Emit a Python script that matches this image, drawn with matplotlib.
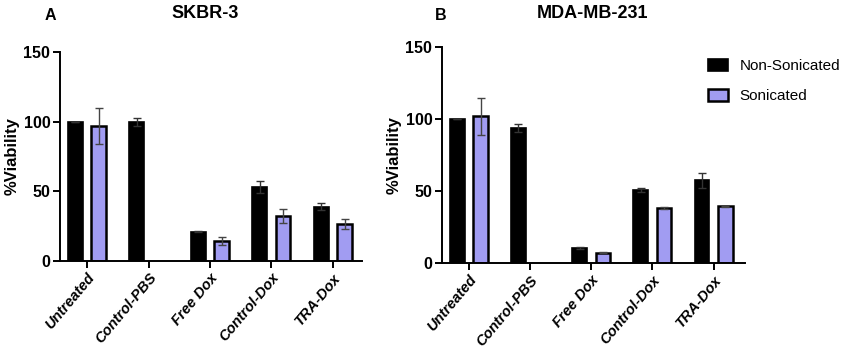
import matplotlib
matplotlib.use("Agg")
import matplotlib.pyplot as plt
import numpy as np

plt.rcParams['font.family'] = ['Liberation Sans', 'DejaVu Sans']

categories = ['Untreated', 'Control-PBS', 'Free Dox', 'Control-Dox', 'TRA-Dox']

# SKBR-3
skbr_non = [100, 100, 21, 53, 39]
skbr_non_err = [0, 3, 0.5, 4.3, 2.6]
skbr_son = [97, np.nan, 14.6, 32, 26.5]
skbr_son_err = [12.7, np.nan, 2.9, 5, 3.8]

# MDA-MB-231
mda_non = [100, 93.6, 10.4, 50.7, 57.6]
mda_non_err = [0, 2.8, 0.6, 1.3, 5.1]
mda_son = [102, np.nan, 7.2, 38.4, 39.6]
mda_son_err = [13, np.nan, 0.5, 0.7, 0.4]

black = '#000000'
purple = '#a19cf2'

fig = plt.figure(figsize=(8.5, 3.57), dpi=100)
ax_a = fig.add_axes([0.0706, 0.269, 0.355, 0.585])
ax_b = fig.add_axes([0.520, 0.263, 0.357, 0.605])


def draw_panel(ax, non, non_err, son, son_err, xmax):
    x = np.arange(len(categories))
    w = 0.24
    ax.bar(x - 0.19, non, w, color=black, edgecolor=black, linewidth=1.2,
           label='Non-Sonicated', zorder=2)
    ax.bar(x + 0.19, son, w, color=purple, edgecolor=black, linewidth=1.8,
           label='Sonicated', zorder=2)
    ax.errorbar(x - 0.19, non, yerr=non_err, fmt='none', ecolor='#333333',
                elinewidth=1.0, capsize=3, capthick=1.0, zorder=3)
    ax.errorbar(x + 0.19, son, yerr=son_err, fmt='none', ecolor='#444444',
                elinewidth=1.0, capsize=3, capthick=1.0, zorder=3)
    ax.set_xlim(-0.44, xmax)
    ax.set_ylim(0, 150)
    ax.set_yticks([0, 50, 100, 150])
    ax.set_xticks(x)
    ax.set_xticklabels(categories, rotation=50, ha='right', rotation_mode='anchor',
                       fontstyle='italic', fontweight='bold', fontsize=10.5)
    for lab in ax.get_yticklabels():
        lab.set_fontweight('bold')
        lab.set_fontsize(11.5)
    ax.spines['top'].set_visible(False)
    ax.spines['right'].set_visible(False)
    ax.spines['left'].set_linewidth(1.4)
    ax.spines['bottom'].set_linewidth(1.4)
    ax.tick_params(axis='both', width=1.4, length=5, pad=2)
    ax.set_ylabel('%Viability', fontweight='bold', fontsize=12, labelpad=3)


draw_panel(ax_a, skbr_non, skbr_non_err, skbr_son, skbr_son_err, 4.47)
draw_panel(ax_b, mda_non, mda_non_err, mda_son, mda_son_err, 4.52)

fig.text(205 / 850, 1 - 14 / 357, 'SKBR-3', ha='center', va='center',
         fontweight='bold', fontsize=13)
fig.text(50 / 850, 1 - 15 / 357, 'A', ha='center', va='center',
         fontweight='bold', fontsize=11.5)
fig.text(592 / 850, 1 - 14 / 357, 'MDA-MB-231', ha='center', va='center',
         fontweight='bold', fontsize=13)
fig.text(441 / 850, 1 - 15 / 357, 'B', ha='center', va='center',
         fontweight='bold', fontsize=11.5)

fig.legend(handles=ax_b.containers[:2], labels=['Non-Sonicated', 'Sonicated'],
           loc='upper left', bbox_to_anchor=(694 / 850, 1 - 45 / 357),
           frameon=False, fontsize=11, handlelength=1.3, handleheight=0.9,
           labelspacing=1.0, handletextpad=0.8)

fig.savefig('out.png', dpi=100)
